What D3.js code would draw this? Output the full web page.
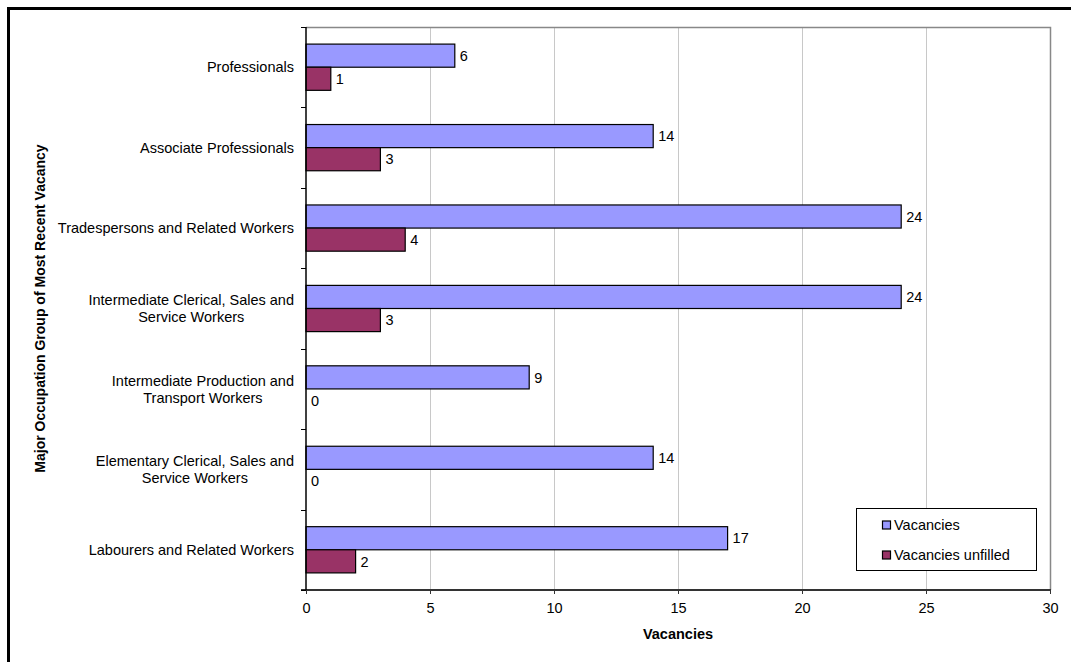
<!DOCTYPE html>
<html>
<head>
<meta charset="utf-8">
<script src="https://cdn.jsdelivr.net/npm/d3@7"></script>
<style>
  html, body { margin: 0; padding: 0; background: #fff; }
  svg { display: block; font-family: "Liberation Sans", Arial, sans-serif; }
</style>
</head>
<body>
<svg id="chart" width="1071" height="662"></svg>
<script>
// Occupation groups (top to bottom); "\n" splits a label onto two lines
const categories = [
  "Professionals",
  "Associate Professionals",
  "Tradespersons and Related Workers",
  "Intermediate Clerical, Sales and\nService Workers",
  "Intermediate Production and\nTransport Workers",
  "Elementary Clerical, Sales and\nService Workers",
  "Labourers and Related Workers"
];
const vacancies = [6, 14, 24, 24, 9, 14, 17];
const vacanciesUnfilled = [1, 3, 4, 3, 0, 0, 2];
const seriesNames = ["Vacancies", "Vacancies unfilled"];
const seriesColors = ["#9999FF", "#993366"];
const xTicks = [0, 5, 10, 15, 20, 25, 30];

const FS = 14.5;
const svg = d3.select("#chart");
const plot = { left: 306, right: 1050, top: 27, bottom: 590 };

// outer frame
svg.append("rect")
  .attr("x", 8.5).attr("y", 8.5)
  .attr("width", 1100).attr("height", 700)
  .attr("fill", "none").attr("stroke", "#000").attr("stroke-width", 3);

const x = d3.scaleLinear().domain([0, 30]).range([plot.left, plot.right]);
const y = d3.scaleBand().domain(categories).range([plot.top, plot.bottom]);
const sub = d3.scaleBand().domain(seriesNames)
  .range([0, y.bandwidth()]).paddingOuter(0.74).paddingInner(0);

// vertical gridlines
svg.append("g").selectAll("line")
  .data(xTicks.filter(t => t > 0 && t < 30))
  .join("line")
  .attr("x1", d => x(d) + 0.5).attr("x2", d => x(d) + 0.5)
  .attr("y1", plot.top).attr("y2", plot.bottom)
  .attr("stroke", "#C8C8C8").attr("stroke-width", 1);

// plot area frame (top and right)
svg.append("path")
  .attr("d", `M${plot.left},${plot.top + 0.5}H${plot.right + 0.5}V${plot.bottom}`)
  .attr("fill", "none").attr("stroke", "#888").attr("stroke-width", 1.5);

// bars
const series = [vacancies, vacanciesUnfilled];
const groups = svg.append("g").selectAll("g")
  .data(categories)
  .join("g")
  .attr("transform", d => `translate(0,${y(d)})`);

series.forEach((vals, si) => {
  groups.append("rect")
    .attr("x", x(0))
    .attr("y", sub(seriesNames[si]))
    .attr("width", (d, i) => x(vals[i]) - x(0))
    .attr("height", sub.bandwidth())
    .attr("fill", seriesColors[si])
    .attr("stroke", "#000").attr("stroke-width", 1.2)
    .attr("display", (d, i) => vals[i] === 0 ? "none" : null);

  groups.append("text")
    .attr("x", (d, i) => x(vals[i]) + 5)
    .attr("y", sub(seriesNames[si]) + sub.bandwidth() / 2)
    .attr("dy", "0.36em")
    .attr("font-size", FS)
    .attr("fill", "#000")
    .text((d, i) => vals[i]);
});

// x axis
const xAxis = d3.axisBottom(x).tickValues(xTicks).tickSize(4).tickPadding(9);
const gx = svg.append("g")
  .attr("transform", `translate(0,${plot.bottom})`)
  .call(xAxis);
gx.select(".domain").attr("stroke", "#333").attr("stroke-width", 2)
  .attr("d", `M${plot.left - 5},0H${plot.right + 1}`);
gx.selectAll(".tick line").attr("stroke", "#333");
gx.selectAll(".tick text")
  .attr("font-size", FS).attr("font-family", "Liberation Sans, Arial, sans-serif")
  .attr("fill", "#000");

// y axis: line with ticks at category boundaries
const gy = svg.append("g");
gy.append("line")
  .attr("x1", plot.left).attr("x2", plot.left)
  .attr("y1", plot.top).attr("y2", plot.bottom)
  .attr("stroke", "#000").attr("stroke-width", 1.5);
const boundaries = categories.map(c => y(c)).concat([plot.bottom]);
gy.selectAll("line.tk")
  .data(boundaries)
  .join("line").attr("class", "tk")
  .attr("x1", plot.left - 5).attr("x2", plot.left)
  .attr("y1", d => Math.round(d) + 0.5).attr("y2", d => Math.round(d) + 0.5)
  .attr("stroke", "#000").attr("stroke-width", 1);

// category labels: lines centred on each other, block right-aligned
const labelRight = 294;
const lineH = 17;
categories.forEach(c => {
  const lines = c.split("\n");
  const t = svg.append("text")
    .attr("font-size", FS).attr("fill", "#000").attr("text-anchor", "middle");
  const cy = y(c) + y.bandwidth() / 2;
  lines.forEach((ln, k) => {
    t.append("tspan").text(ln)
      .attr("x", 0)
      .attr("y", cy + (k - (lines.length - 1) / 2) * lineH)
      .attr("dy", "0.36em");
  });
  const w = t.node().getBBox().width;
  t.selectAll("tspan").attr("x", labelRight - w / 2);
});

// axis titles
svg.append("text")
  .attr("x", (plot.left + plot.right) / 2).attr("y", 634)
  .attr("dy", "0.36em")
  .attr("text-anchor", "middle").attr("font-size", FS).attr("font-weight", "bold")
  .text("Vacancies");

svg.append("text")
  .attr("transform", `translate(40,${(plot.top + plot.bottom) / 2}) rotate(-90)`)
  .attr("dy", "0.36em")
  .attr("text-anchor", "middle").attr("font-size", 14).attr("font-weight", "bold")
  .text("Major Occupation Group of Most Recent Vacancy");

// legend
const lg = svg.append("g").attr("transform", "translate(856,508)");
lg.append("rect")
  .attr("x", 0.5).attr("y", 0.5).attr("width", 180).attr("height", 62)
  .attr("fill", "#fff").attr("stroke", "#000").attr("stroke-width", 1);
seriesNames.forEach((name, i) => {
  const cy = 17 + i * 30;
  lg.append("rect")
    .attr("x", 26.5).attr("y", cy - 4).attr("width", 8).attr("height", 8)
    .attr("fill", seriesColors[i]).attr("stroke", "#000").attr("stroke-width", 1.2);
  lg.append("text")
    .attr("x", 38).attr("y", cy).attr("dy", "0.36em")
    .attr("font-size", FS).attr("fill", "#000")
    .text(name);
});
</script>
</body>
</html>
